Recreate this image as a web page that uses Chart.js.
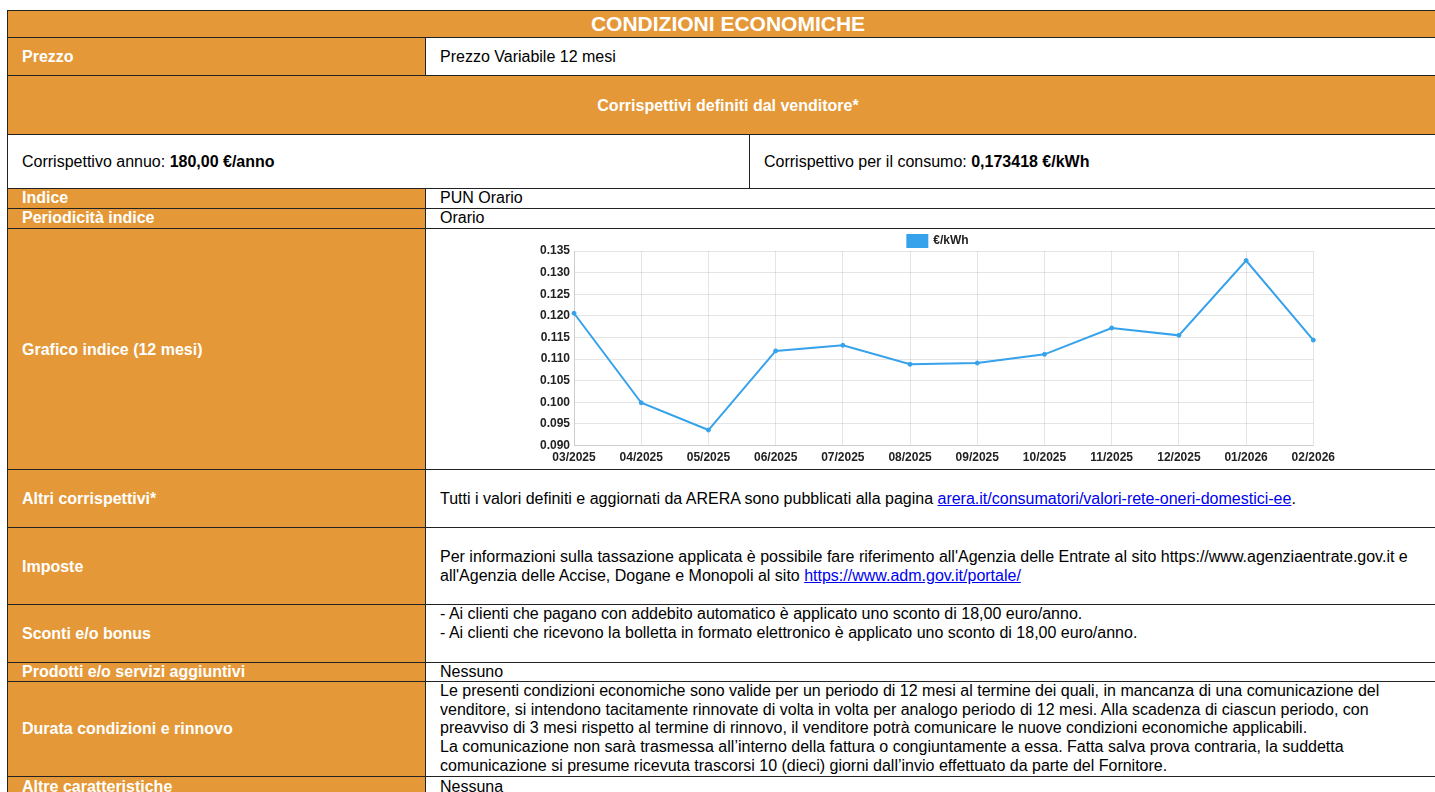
<!DOCTYPE html>
<html lang="it">
<head>
<meta charset="utf-8">
<title>Condizioni economiche</title>
<script src="https://cdn.jsdelivr.net/npm/chart.js@4/dist/chart.umd.min.js"></script>
<style>
  html, body { margin: 0; padding: 0; width: 1435px; height: 792px; overflow: hidden; background: #fff; }
  body { position: relative; font-family: Arial, "Liberation Sans", sans-serif; font-size: 16px; color: #000; line-height: 1.17; }
  .c { position: absolute; box-sizing: border-box; border: 1px solid #222; display: flex; align-items: center; padding-left: 14px; background: #fff; }
  .o { background: #E49837; color: #fff; font-weight: bold; }
  .top { align-items: flex-start; }
  .ctr { justify-content: center; padding-left: 0; }
  .blk { display: block; }
  a { color: #0000EE; text-decoration: underline; }
  #chartBox { position: absolute; left: 536px; top: 233px; width: 804px; height: 237px; }
</style>
</head>
<body>
  <!-- header -->
  <div class="c o ctr" style="left:7px;top:10px;width:1442px;height:28px;font-size:21px;">CONDIZIONI ECONOMICHE</div>
  <!-- Prezzo -->
  <div class="c o" style="left:7px;top:37px;width:419px;height:39px;padding-top:2px;">Prezzo</div>
  <div class="c" style="left:425px;top:37px;width:1024px;height:39px;padding-top:2px;">Prezzo Variabile 12 mesi</div>
  <!-- Corrispettivi definiti -->
  <div class="c o ctr" style="left:7px;top:75px;width:1442px;height:60px;padding-top:2px;">Corrispettivi definiti dal venditore*</div>
  <!-- Corrispettivo annuo / consumo -->
  <div class="c" style="left:7px;top:134px;width:743px;height:55px;padding-top:2px;"><span>Corrispettivo annuo: <b>180,00 €/anno</b></span></div>
  <div class="c" style="left:749px;top:134px;width:700px;height:55px;padding-top:2px;"><span>Corrispettivo per il consumo: <b>0,173418 €/kWh</b></span></div>
  <!-- Indice -->
  <div class="c o" style="left:7px;top:188px;width:419px;height:21px;">Indice</div>
  <div class="c" style="left:425px;top:188px;width:1024px;height:21px;">PUN Orario</div>
  <!-- Periodicita -->
  <div class="c o" style="left:7px;top:208px;width:419px;height:21px;">Periodicità indice</div>
  <div class="c" style="left:425px;top:208px;width:1024px;height:21px;">Orario</div>
  <!-- Grafico -->
  <div class="c o" style="left:7px;top:228px;width:419px;height:242px;padding-top:2px;">Grafico indice (12 mesi)</div>
  <div class="c" style="left:425px;top:228px;width:1024px;height:242px;"></div>
  <div id="chartBox"><canvas id="chart"></canvas></div>
  <!-- Altri corrispettivi -->
  <div class="c o" style="left:7px;top:469px;width:419px;height:59px;padding-top:2px;">Altri corrispettivi*</div>
  <div class="c" style="left:425px;top:469px;width:1024px;height:59px;padding-top:2px;"><span>Tutti i valori definiti e aggiornati da ARERA sono pubblicati alla pagina <a href="#">arera.it/consumatori/valori-rete-oneri-domestici-ee</a>.</span></div>
  <!-- Imposte -->
  <div class="c o" style="left:7px;top:527px;width:419px;height:78px;padding-top:2px;">Imposte</div>
  <div class="c" style="left:425px;top:527px;width:1024px;height:78px;padding-top:2px;"><div class="blk" style="width:995px;">Per informazioni sulla tassazione applicata è possibile fare riferimento all'Agenzia delle Entrate al sito https://www.agenziaentrate.gov.it e<br>all'Agenzia delle Accise, Dogane e Monopoli al sito <a href="#">https://www.adm.gov.it/portale/</a></div></div>
  <!-- Sconti -->
  <div class="c o" style="left:7px;top:604px;width:419px;height:59px;padding-top:2px;">Sconti e/o bonus</div>
  <div class="c top" style="left:425px;top:604px;width:1024px;height:59px;"><span class="blk">- Ai clienti che pagano con addebito automatico è applicato uno sconto di 18,00 euro/anno.<br>- Ai clienti che ricevono la bolletta in formato elettronico è applicato uno sconto di 18,00 euro/anno.</span></div>
  <!-- Prodotti -->
  <div class="c o" style="left:7px;top:662px;width:419px;height:20px;">Prodotti e/o servizi aggiuntivi</div>
  <div class="c" style="left:425px;top:662px;width:1024px;height:20px;">Nessuno</div>
  <!-- Durata -->
  <div class="c o" style="left:7px;top:681px;width:419px;height:96px;">Durata condizioni e rinnovo</div>
  <div class="c top" style="left:425px;top:681px;width:1024px;height:96px;"><span class="blk" style="width:995px;">Le presenti condizioni economiche sono valide per un periodo di 12 mesi al termine dei quali, in mancanza di una comunicazione del venditore, si intendono tacitamente rinnovate di volta in volta per analogo periodo di 12 mesi. Alla scadenza di ciascun periodo, con preavviso di 3 mesi rispetto al termine di rinnovo, il venditore potrà comunicare le nuove condizioni economiche applicabili.<br>La comunicazione non sarà trasmessa all’interno della fattura o congiuntamente a essa. Fatta salva prova contraria, la suddetta comunicazione si presume ricevuta trascorsi 10 (dieci) giorni dall’invio effettuato da parte del Fornitore.</span></div>
  <!-- Altre -->
  <div class="c o" style="left:7px;top:776px;width:419px;height:22px;">Altre caratteristiche</div>
  <div class="c" style="left:425px;top:776px;width:1024px;height:22px;">Nessuna</div>

<script>
const months = ['03/2025','04/2025','05/2025','06/2025','07/2025','08/2025','09/2025','10/2025','11/2025','12/2025','01/2026','02/2026'];
const prices = [0.1206, 0.0999, 0.0936, 0.1119, 0.1132, 0.1088, 0.1091, 0.1111, 0.1172, 0.1155, 0.1328, 0.1144];
const seriesLabel = '€/kWh';
const yMin = 0.090;
const yMax = 0.135;
const yStep = 0.005;

const tickFont = { family: 'Arial, "Liberation Sans", sans-serif', size: 12, weight: 'bold' };
new Chart(document.getElementById('chart'), {
  type: 'line',
  data: {
    labels: months,
    datasets: [{
      label: seriesLabel,
      data: prices,
      borderColor: '#36A2EB',
      backgroundColor: '#36A2EB',
      borderWidth: 2,
      pointRadius: 2,
      pointBorderWidth: 1,
      tension: 0,
      fill: false
    }]
  },
  options: {
    responsive: true,
    maintainAspectRatio: false,
    animation: false,
    plugins: {
      legend: {
        maxHeight: 18,
        labels: { boxWidth: 20, boxHeight: 12, padding: 2, color: '#222', font: tickFont }
      },
      tooltip: { enabled: false }
    },
    scales: {
      x: {
        grid: { drawTicks: false, color: 'rgba(0,0,0,0.1)' },
        ticks: { color: '#222', font: tickFont, padding: 5, maxRotation: 0, autoSkip: false }
      },
      y: {
        min: yMin,
        max: yMax,
        grid: { drawTicks: false, color: 'rgba(0,0,0,0.1)' },
        ticks: { stepSize: yStep, color: '#222', font: tickFont, padding: 4,
                 callback: v => Number(v).toFixed(3) }
      }
    }
  }
});
</script>
</body>
</html>
